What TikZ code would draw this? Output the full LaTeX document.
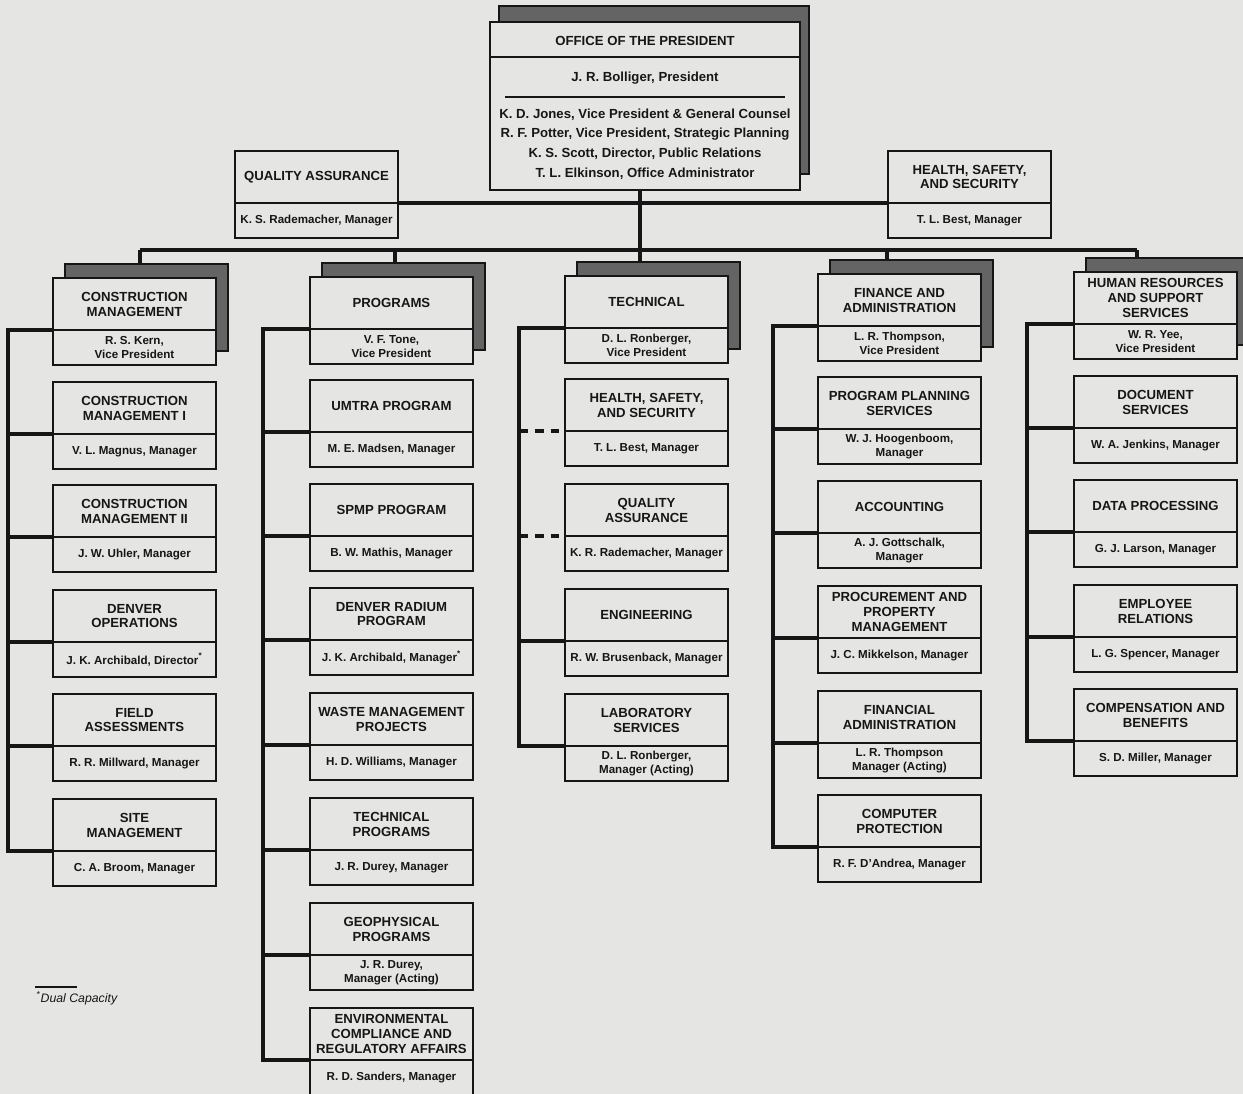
\documentclass[tikz,border=0pt]{standalone}
\usepackage{fontspec}
\setmainfont{Liberation Sans}
\usetikzlibrary{calc}

\definecolor{paper}{RGB}{229,229,227}
\definecolor{ink}{RGB}{22,22,22}
\definecolor{shade}{RGB}{100,100,100}

\tikzset{
  box/.style={draw=ink, line width=1.2pt, fill=paper, minimum width=3.26cm,
    minimum height=1.74cm, inner sep=0pt, outer sep=0pt},
  backbox/.style={draw=ink, line width=0.8pt, fill=shade, minimum width=3.26cm,
    minimum height=1.74cm, inner sep=0pt, outer sep=0pt},
  divider/.style={draw=ink, line width=1.3pt},
  conn/.style={draw=ink, line width=2pt},
  dashconn/.style={conn, dash pattern=on 5pt off 4pt},
  title/.style={font=\bfseries\fontsize{7.5}{8.5}\selectfont, align=center,
    text=ink, inner sep=0pt},
  person/.style={font=\bfseries\fontsize{6.6}{7.9}\selectfont, align=center,
    text=ink, inner sep=0pt},
  prestext/.style={font=\bfseries\fontsize{7.5}{11.2}\selectfont, align=center,
    text=ink, inner sep=0pt},
}

% one organisational unit: name, left x, top y, title, person
\newcommand\orgunit[5]{%
  \node[box, anchor=north west] (#1) at (#2,#3) {};
  \coordinate (#1-dl) at ($(#1.north west)+(0,52)$);
  \coordinate (#1-dr) at ($(#1.north east)+(0,52)$);
  \draw[divider] (#1-dl) -- (#1-dr);
  \node[title] (#1-t) at ($(#1.north)+(0,26)$) {#4};
  \node[person] (#1-p) at ($(#1.north)+(0,69.5)$) {#5};
}
% a division head: the same unit with a shaded box stacked behind it
\newcommand\headunit[5]{%
  \node[backbox, anchor=north west] (#1-back) at ({#2+12},{#3-14}) {};
  \orgunit{#1}{#2}{#3}{#4}{#5}
}

\begin{document}
\begin{tikzpicture}[x=0.02cm, y=-0.02cm]
\fill[paper] (0,0) rectangle (1243,1094);
\useasboundingbox (0,0) rectangle (1243,1094);

% ---------- office of the president ----------
\node[backbox, minimum width=6.2cm, minimum height=3.36cm, anchor=north west]
  (pres-back) at (499,6) {};
\node[box, minimum width=6.2cm, minimum height=3.36cm, anchor=north west]
  (pres) at (490,22) {};
\draw[divider] ($(pres.north west)+(0,35)$) -- ($(pres.north east)+(0,35)$);
\draw[draw=ink, line width=0.7pt] ($(pres.north west)+(15,75)$) -- ($(pres.north east)+(-15,75)$);
\node[title] (pres-t) at (645,41) {OFFICE OF THE PRESIDENT};
\node[prestext] (pres-p) at (645,78) {J. R. Bolliger, President};
\node[prestext] (pres-s) at (645,144) {K. D. Jones, Vice President \& General Counsel\\
  R. F. Potter, Vice President, Strategic Planning\\
  K. S. Scott, Director, Public Relations\\
  T. L. Elkinson, Office Administrator};

% ---------- staff units ----------
\orgunit{qa}{235}{151}{QUALITY ASSURANCE}{K. S. Rademacher, Manager}
\orgunit{hss}{888}{151}{HEALTH, SAFETY,\\AND SECURITY}{T. L. Best, Manager}

% ---------- column 1 ----------
\headunit{cm}{53}{278}{CONSTRUCTION\\MANAGEMENT}{R. S. Kern,\\Vice President}
\orgunit{cmi}{53}{382}{CONSTRUCTION\\MANAGEMENT I}{V. L. Magnus, Manager}
\orgunit{cmii}{53}{485}{CONSTRUCTION\\MANAGEMENT II}{J. W. Uhler, Manager}
\orgunit{den}{53}{590}{DENVER\\OPERATIONS}{J. K. Archibald, Director\textsuperscript{*}}
\orgunit{fld}{53}{694}{FIELD\\ASSESSMENTS}{R. R. Millward, Manager}
\orgunit{site}{53}{799}{SITE\\MANAGEMENT}{C. A. Broom, Manager}

% ---------- column 2 ----------
\headunit{prog}{310}{277}{PROGRAMS}{V. F. Tone,\\Vice President}
\orgunit{umtra}{310}{380}{UMTRA PROGRAM}{M. E. Madsen, Manager}
\orgunit{spmp}{310}{484}{SPMP PROGRAM}{B. W. Mathis, Manager}
\orgunit{drp}{310}{588}{DENVER RADIUM\\PROGRAM}{J. K. Archibald, Manager\textsuperscript{*}}
\orgunit{wmp}{310}{693}{WASTE MANAGEMENT\\PROJECTS}{H. D. Williams, Manager}
\orgunit{tp}{310}{798}{TECHNICAL\\PROGRAMS}{J. R. Durey, Manager}
\orgunit{geo}{310}{903}{GEOPHYSICAL\\PROGRAMS}{J. R. Durey,\\Manager (Acting)}
\orgunit{ecra}{310}{1008}{ENVIRONMENTAL\\COMPLIANCE AND\\REGULATORY AFFAIRS}{R. D. Sanders, Manager}

% ---------- column 3 ----------
\headunit{tech}{565}{276}{TECHNICAL}{D. L. Ronberger,\\Vice President}
\orgunit{hssc}{565}{379}{HEALTH, SAFETY,\\AND SECURITY}{T. L. Best, Manager}
\orgunit{qac}{565}{484}{QUALITY\\ASSURANCE}{K. R. Rademacher, Manager}
\orgunit{eng}{565}{589}{ENGINEERING}{R. W. Brusenback, Manager}
\orgunit{lab}{565}{694}{LABORATORY\\SERVICES}{D. L. Ronberger,\\Manager (Acting)}

% ---------- column 4 ----------
\headunit{fin}{818}{274}{FINANCE AND\\ADMINISTRATION}{L. R. Thompson,\\Vice President}
\orgunit{pps}{818}{377}{PROGRAM PLANNING\\SERVICES}{W. J. Hoogenboom,\\Manager}
\orgunit{acct}{818}{481}{ACCOUNTING}{A. J. Gottschalk,\\Manager}
\orgunit{ppm}{818}{586}{PROCUREMENT AND\\PROPERTY\\MANAGEMENT}{J. C. Mikkelson, Manager}
\orgunit{fadm}{818}{691}{FINANCIAL\\ADMINISTRATION}{L. R. Thompson\\Manager (Acting)}
\orgunit{cp}{818}{795}{COMPUTER\\PROTECTION}{R. F. D'Andrea, Manager}

% ---------- column 5 ----------
\headunit{hr}{1074}{272}{HUMAN RESOURCES\\AND SUPPORT\\SERVICES}{W. R. Yee,\\Vice President}
\orgunit{doc}{1074}{376}{DOCUMENT\\SERVICES}{W. A. Jenkins, Manager}
\orgunit{dp}{1074}{480}{DATA PROCESSING}{G. J. Larson, Manager}
\orgunit{er}{1074}{585}{EMPLOYEE\\RELATIONS}{L. G. Spencer, Manager}
\orgunit{cb}{1074}{689}{COMPENSATION AND\\BENEFITS}{S. D. Miller, Manager}

% ---------- connectors ----------
\coordinate (drop1) at (140,250);
\coordinate (drop2) at (395,250);
\coordinate (drop3) at (640,250);
\coordinate (drop4) at (887,250);
\coordinate (drop5) at (1137,250);
\draw[conn] (qa-dr) -- (hss-dl);
\draw[conn] (drop3 |- pres.south) -- (drop3);
\draw[conn] (drop1) -- (drop5);
\draw[conn] (drop1) -- (drop1 |- cm-back.north);
\draw[conn] (drop2) -- (drop2 |- prog-back.north);
\draw[conn] (drop3) -- (drop3 |- tech-back.north);
\draw[conn] (drop4) -- (drop4 |- fin-back.north);
\draw[conn] (drop5) -- (drop5 |- hr-back.north);

% column buses
\coordinate (bus1) at (8,0);
\coordinate (bus2) at (263,0);
\coordinate (bus3) at (519,0);
\coordinate (bus4) at (773,0);
\coordinate (bus5) at (1027,0);

\draw[conn] (cm-dl) -- (cm-dl -| bus1) -- (site-dl -| bus1) -- (site-dl);
\foreach \u in {cmi,cmii,den,fld}
  \draw[conn] (\u-dl -| bus1) -- (\u-dl);

\draw[conn] (prog-dl) -- (prog-dl -| bus2) -- (ecra-dl -| bus2) -- (ecra-dl);
\foreach \u in {umtra,spmp,drp,wmp,tp,geo}
  \draw[conn] (\u-dl -| bus2) -- (\u-dl);

\draw[conn] (tech-dl) -- (tech-dl -| bus3) -- (lab-dl -| bus3) -- (lab-dl);
\draw[conn] (eng-dl -| bus3) -- (eng-dl);
\draw[dashconn] (hssc-dl -| bus3) -- (hssc-dl);
\draw[dashconn] (qac-dl -| bus3) -- (qac-dl);

\draw[conn] (fin-dl) -- (fin-dl -| bus4) -- (cp-dl -| bus4) -- (cp-dl);
\foreach \u in {pps,acct,ppm,fadm}
  \draw[conn] (\u-dl -| bus4) -- (\u-dl);

\draw[conn] (hr-dl) -- (hr-dl -| bus5) -- (cb-dl -| bus5) -- (cb-dl);
\foreach \u in {doc,dp,er}
  \draw[conn] (\u-dl -| bus5) -- (\u-dl);

% ---------- footnote ----------
\coordinate (fn-a) at (35,987);
\coordinate (fn-b) at (77,987);
\draw[draw=ink, line width=0.6pt] (fn-a) -- (fn-b);
\node[anchor=west, inner sep=0pt, text=ink, font=\itshape\fontsize{7}{8}\selectfont]
  (fn) at (36,998) {\textsuperscript{*}Dual Capacity};
\end{tikzpicture}
\end{document}
